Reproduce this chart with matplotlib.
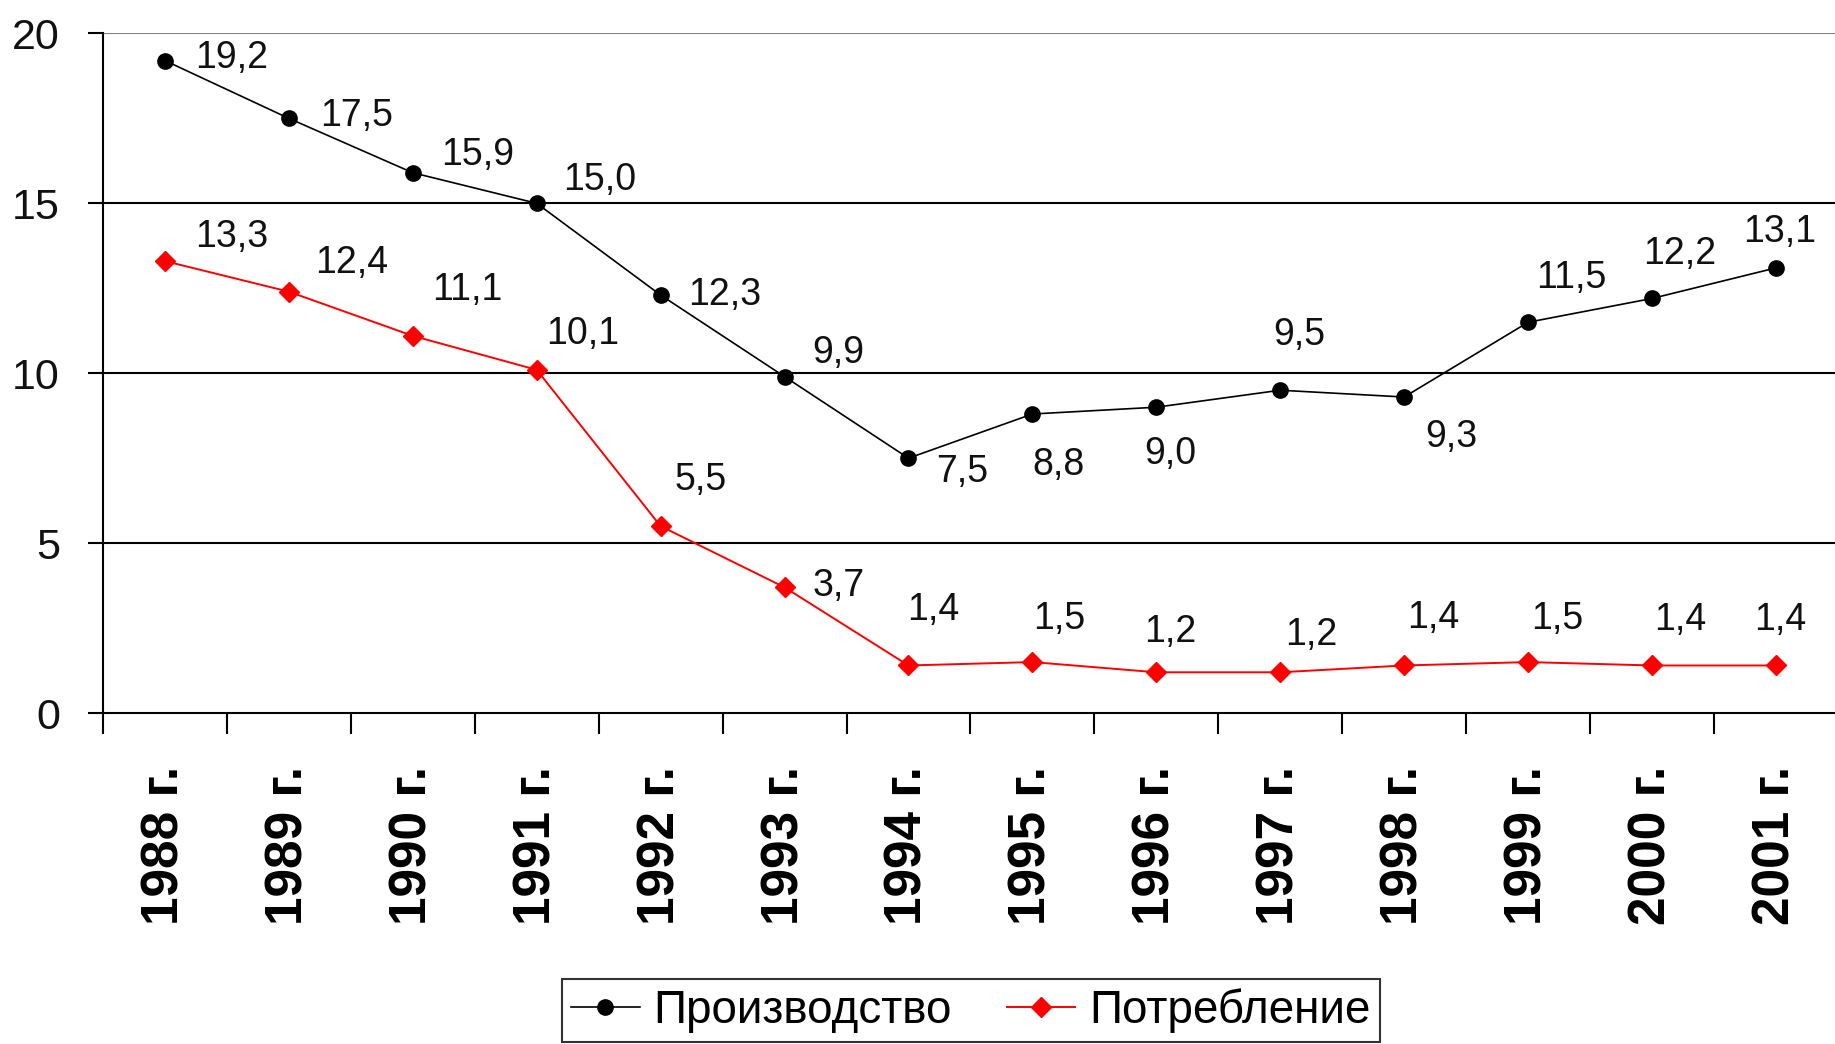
import matplotlib.pyplot as plt
from matplotlib.lines import Line2D
from matplotlib.ticker import FixedLocator

plt.rcParams['font.family'] = ['Liberation Sans', 'DejaVu Sans']

years = ['1988 г.', '1989 г.', '1990 г.', '1991 г.', '1992 г.', '1993 г.', '1994 г.',
         '1995 г.', '1996 г.', '1997 г.', '1998 г.', '1999 г.', '2000 г.', '2001 г.']
production = [19.2, 17.5, 15.9, 15.0, 12.3, 9.9, 7.5, 8.8, 9.0, 9.5, 9.3, 11.5, 12.2, 13.1]
consumption = [13.3, 12.4, 11.1, 10.1, 5.5, 3.7, 1.4, 1.5, 1.2, 1.2, 1.4, 1.5, 1.4, 1.4]
series_names = ['Производство', 'Потребление']

# label offsets in points (dx, dy)
prod_off = [(48, 2), (49, 2), (47, 13), (45, 17), (46, 0), (39, 17), (39, -10),
            (19, -37), (10, -34), (14, 40), (34, -29), (31, 32), (20, 32), (3, 26)]
cons_off = [(48, 17), (45, 21), (39, 33), (33, 26), (29, 33), (39, 1), (18, 40),
            (19, 31), (10, 29), (22, 27), (21, 34), (21, 31), (20, 33), (3, 33)]

fig = plt.figure(figsize=(18.35, 10.44), dpi=100)
ax = fig.add_axes([0.0561, 0.317, 0.9455, 0.651])

x = range(len(years))
ax.plot(x, production, color='black', lw=1.2, marker='o', ms=11, label=series_names[0], zorder=3)
ax.plot(x, consumption, color='#ff0000', lw=1.4, marker='D', ms=10, label=series_names[1], zorder=3)

for i, v in enumerate(production):
    ax.annotate(f'{v:.1f}'.replace('.', ','), (i, v), xytext=prod_off[i], textcoords='offset points',
                ha='center', va='center', fontsize=27, color='#111111')
for i, v in enumerate(consumption):
    ax.annotate(f'{v:.1f}'.replace('.', ','), (i, v), xytext=cons_off[i], textcoords='offset points',
                ha='center', va='center', fontsize=27, color='#111111')

ax.set_xlim(-0.5, len(years) - 0.5)
ax.set_ylim(0, 20)
ax.set_yticks([0, 5, 10, 15, 20])
ax.set_yticklabels(['0', '5', '10', '15', '20'], fontsize=31, color='#111111')
ax.tick_params(axis='y', length=11, width=1.5, pad=20)

ax.set_xticks(list(x))
ax.set_xticklabels(years, rotation=90, fontsize=37, fontweight='bold')
ax.tick_params(axis='x', which='major', length=0, pad=38)
ax.xaxis.set_minor_locator(FixedLocator([i - 0.5 for i in range(len(years) + 1)]))
ax.tick_params(axis='x', which='minor', length=15, width=1.5)

for yv in [5, 10, 15]:
    ax.axhline(yv, color='black', lw=1.5, zorder=1)
ax.axhline(20, color='#808080', lw=1.5, zorder=1)

for s in ['top', 'right']:
    ax.spines[s].set_visible(False)
ax.spines['left'].set_linewidth(1.5)
ax.spines['bottom'].set_linewidth(1.5)

handles = [Line2D([0], [0], color='black', lw=1.2, marker='o', ms=11),
           Line2D([0], [0], color='#ff0000', lw=1.4, marker='D', ms=10)]
leg = fig.legend(handles, series_names, loc='center', bbox_to_anchor=(0.529, 0.032),
                 ncol=2, fontsize=33, frameon=True, fancybox=False, edgecolor='black',
                 handlelength=1.5, handletextpad=0.3, columnspacing=1.2,
                 borderpad=0.2, borderaxespad=0)
leg.get_frame().set_linewidth(1.5)

fig.savefig('out.png', dpi=100)
